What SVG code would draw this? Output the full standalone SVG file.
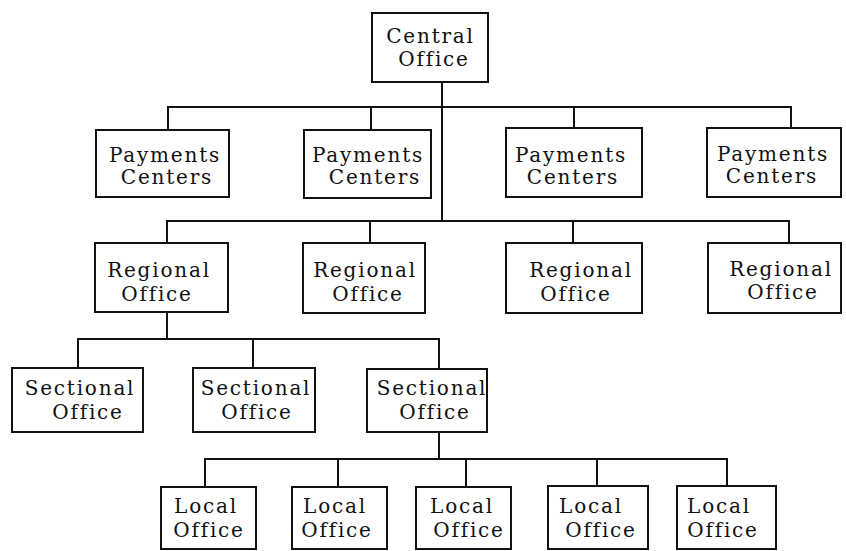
<svg xmlns="http://www.w3.org/2000/svg" width="846" height="551" viewBox="0 0 846 551">
  <style>
    .box { fill: #ffffff; stroke: #111111; stroke-width: 2; }
    .wire { fill: none; stroke: #111111; stroke-width: 2; }
    text { font-family: "DejaVu Serif", "Liberation Serif", serif; font-size: 20px; letter-spacing: 1.8px; fill: #111111; text-anchor: middle; }
  </style>
  <rect width="846" height="551" fill="#ffffff"/>

  <!-- connectors -->
  <g id="connectors">
    <path class="wire" d="M442 82 V221"/>
    <path class="wire" d="M168 130 V107 H791 V128"/>
    <path class="wire" d="M371 107 V130"/>
    <path class="wire" d="M574 107 V128"/>
    <path class="wire" d="M167 243 V221 H789 V243"/>
    <path class="wire" d="M370 221 V243"/>
    <path class="wire" d="M573 221 V243"/>
    <path class="wire" d="M167 312 V339"/>
    <path class="wire" d="M78 368 V339 H439 V369"/>
    <path class="wire" d="M253 339 V368"/>
    <path class="wire" d="M439 432 V459"/>
    <path class="wire" d="M205 487 V459 H727 V486"/>
    <path class="wire" d="M338 459 V487"/>
    <path class="wire" d="M466 459 V487"/>
    <path class="wire" d="M597 459 V486"/>
  </g>

  <!-- top level -->
  <g id="central-office">
    <rect class="box" x="372" y="13" width="116" height="69"/>
    <text x="430.5" y="43">Central</text>
    <text x="434" y="66">Office</text>
  </g>

  <!-- payments centers -->
  <g id="payments-1">
    <rect class="box" x="96" y="130" width="133" height="67"/>
    <text x="165" y="162">Payments</text>
    <text x="167" y="184">Centers</text>
  </g>
  <g id="payments-2">
    <rect class="box" x="304" y="130" width="127" height="68"/>
    <text x="368" y="162">Payments</text>
    <text x="375" y="184">Centers</text>
  </g>
  <g id="payments-3">
    <rect class="box" x="506" y="128" width="136" height="69"/>
    <text x="571" y="162">Payments</text>
    <text x="573" y="184">Centers</text>
  </g>
  <g id="payments-4">
    <rect class="box" x="707" y="128" width="134" height="69"/>
    <text x="773" y="161">Payments</text>
    <text x="772" y="183">Centers</text>
  </g>

  <!-- regional offices -->
  <g id="regional-1">
    <rect class="box" x="95" y="243" width="133" height="69"/>
    <text x="159" y="277">Regional</text>
    <text x="157" y="301">Office</text>
  </g>
  <g id="regional-2">
    <rect class="box" x="303" y="243" width="122" height="70"/>
    <text x="365" y="277">Regional</text>
    <text x="368" y="301">Office</text>
  </g>
  <g id="regional-3">
    <rect class="box" x="506" y="243" width="136" height="70"/>
    <text x="581" y="277">Regional</text>
    <text x="576" y="301">Office</text>
  </g>
  <g id="regional-4">
    <rect class="box" x="708" y="243" width="133" height="70"/>
    <text x="781" y="276">Regional</text>
    <text x="783" y="299">Office</text>
  </g>

  <!-- sectional offices -->
  <g id="sectional-1">
    <rect class="box" x="12" y="368" width="131" height="64"/>
    <text x="80" y="395">Sectional</text>
    <text x="88" y="419">Office</text>
  </g>
  <g id="sectional-2">
    <rect class="box" x="193" y="368" width="122" height="64"/>
    <text x="256" y="395">Sectional</text>
    <text x="257" y="419">Office</text>
  </g>
  <g id="sectional-3">
    <rect class="box" x="367" y="369" width="120" height="63"/>
    <text x="432" y="395">Sectional</text>
    <text x="435" y="419">Office</text>
  </g>

  <!-- local offices -->
  <g id="local-1">
    <rect class="box" x="161" y="487" width="95" height="62"/>
    <text x="206" y="513">Local</text>
    <text x="209" y="537">Office</text>
  </g>
  <g id="local-2">
    <rect class="box" x="292" y="487" width="95" height="62"/>
    <text x="335" y="513">Local</text>
    <text x="337" y="537">Office</text>
  </g>
  <g id="local-3">
    <rect class="box" x="416" y="487" width="95" height="62"/>
    <text x="462" y="513">Local</text>
    <text x="469" y="537">Office</text>
  </g>
  <g id="local-4">
    <rect class="box" x="548" y="486" width="100" height="63"/>
    <text x="591" y="513">Local</text>
    <text x="601" y="537">Office</text>
  </g>
  <g id="local-5">
    <rect class="box" x="677" y="486" width="99" height="63"/>
    <text x="719" y="513">Local</text>
    <text x="723" y="537">Office</text>
  </g>
</svg>
